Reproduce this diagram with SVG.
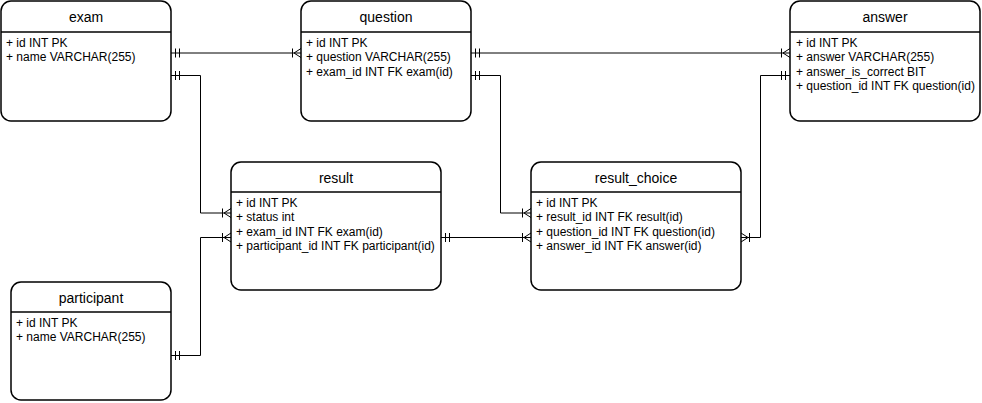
<svg xmlns="http://www.w3.org/2000/svg" width="982" height="403" viewBox="0 0 982 403">
<style>
.box{fill:#fff;stroke:#000;stroke-width:1.5}
.sep{stroke:#000;stroke-width:1.5}
.title{font-family:"Liberation Sans",Arial,Helvetica,sans-serif;font-size:14px;text-anchor:middle;fill:#000}
.row{font-family:"Liberation Sans",Arial,Helvetica,sans-serif;font-size:12px;fill:#000}
.edge{fill:none;stroke:#000;stroke-width:1}
</style>
<defs>
<marker id="one" markerUnits="userSpaceOnUse" orient="auto" markerWidth="24" markerHeight="24" viewBox="-12 -12 24 24" refX="0" refY="0" overflow="visible">
<path d="M4.5,-4.5V4.5M8.5,-4.5V4.5" fill="none" stroke="#000" stroke-width="1"/>
</marker>
<marker id="many" markerUnits="userSpaceOnUse" orient="auto" markerWidth="24" markerHeight="24" viewBox="-12 -12 24 24" refX="0" refY="0" overflow="visible">
<path d="M-8.5,-4.5V4.5M0,-4.5L-7,0L0,4.5" fill="none" stroke="#000" stroke-width="1"/>
</marker>
</defs>
<g id="connectors">
<path class="edge" d="M171,53H301" marker-start="url(#one)" marker-end="url(#many)"/>
<path class="edge" d="M171,75.5H200.5V213H231" marker-start="url(#one)" marker-end="url(#many)"/>
<path class="edge" d="M171,355.5H200.5V237.5H231" marker-start="url(#one)" marker-end="url(#many)"/>
<path class="edge" d="M471,53H790" marker-start="url(#one)" marker-end="url(#many)"/>
<path class="edge" d="M471,75.5H500.5V213H531" marker-start="url(#one)" marker-end="url(#many)"/>
<path class="edge" d="M441,237.5H531" marker-start="url(#one)" marker-end="url(#many)"/>
<path class="edge" d="M790,75.5H760.5V237.5H741" marker-start="url(#one)" marker-end="url(#many)"/>
</g>
<g id="exam">
<rect class="box" x="1" y="1" width="170" height="120" rx="10"/>
<line class="sep" x1="1" y1="32" x2="171" y2="32"/>
<text class="title" x="86" y="22">exam</text>
<text class="row" x="6" y="47">+ id INT PK</text>
<text class="row" x="6" y="61.4">+ name VARCHAR(255)</text>
</g>
<g id="question">
<rect class="box" x="301" y="1" width="170" height="120" rx="10"/>
<line class="sep" x1="301" y1="32" x2="471" y2="32"/>
<text class="title" x="386" y="22">question</text>
<text class="row" x="306" y="47">+ id INT PK</text>
<text class="row" x="306" y="61.4">+ question VARCHAR(255)</text>
<text class="row" x="306" y="75.8">+ exam_id INT FK exam(id)</text>
</g>
<g id="answer">
<rect class="box" x="790" y="1" width="190" height="120" rx="10"/>
<line class="sep" x1="790" y1="32" x2="980" y2="32"/>
<text class="title" x="885" y="22">answer</text>
<text class="row" x="796" y="47">+ id INT PK</text>
<text class="row" x="796" y="61.4">+ answer VARCHAR(255)</text>
<text class="row" x="796" y="75.8">+ answer_is_correct BIT</text>
<text class="row" x="796" y="90.2">+ question_id INT FK question(id)</text>
</g>
<g id="result">
<rect class="box" x="231" y="162" width="210" height="128" rx="10"/>
<line class="sep" x1="231" y1="192" x2="441" y2="192"/>
<text class="title" x="336" y="182.5">result</text>
<text class="row" x="236" y="207">+ id INT PK</text>
<text class="row" x="236" y="221.4">+ status int</text>
<text class="row" x="236" y="235.8">+ exam_id INT FK exam(id)</text>
<text class="row" x="236" y="250.2">+ participant_id INT FK participant(id)</text>
</g>
<g id="result_choice">
<rect class="box" x="531" y="162" width="210" height="128" rx="10"/>
<line class="sep" x1="531" y1="192" x2="741" y2="192"/>
<text class="title" x="636" y="182.5">result_choice</text>
<text class="row" x="536" y="207">+ id INT PK</text>
<text class="row" x="536" y="221.4">+ result_id INT FK result(id)</text>
<text class="row" x="536" y="235.8">+ question_id INT FK question(id)</text>
<text class="row" x="536" y="250.2">+ answer_id INT FK answer(id)</text>
</g>
<g id="participant">
<rect class="box" x="11" y="282" width="160" height="118" rx="10"/>
<line class="sep" x1="11" y1="312" x2="171" y2="312"/>
<text class="title" x="91" y="302.5">participant</text>
<text class="row" x="16" y="327">+ id INT PK</text>
<text class="row" x="16" y="341.4">+ name VARCHAR(255)</text>
</g>
</svg>
